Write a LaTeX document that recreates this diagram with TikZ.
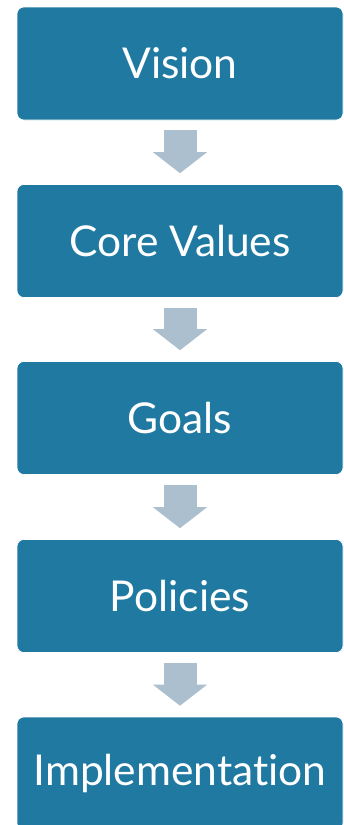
\documentclass[tikz,border=0pt]{standalone}
\usepackage{fontspec}
\setmainfont{Lato}[Ligatures={NoCommon,NoRequired,NoContextual}]
\usetikzlibrary{arrows.meta}

\definecolor{boxblue}{RGB}{31,121,161}
\definecolor{arrowgrey}{RGB}{171,191,206}

\tikzset{
  stagebox/.style={fill=boxblue, draw=white, line width=0.6pt, rounded corners=7pt,
    minimum width=326pt, minimum height=113pt, inner sep=0pt, text=white,
    font=\fontsize{42.5}{50}\selectfont},
  downarrow/.style={draw=arrowgrey, line width=33pt,
    -{Triangle[width=53pt,length=21pt]}, shorten <=10pt, shorten >=11pt}
}

\begin{document}
\begin{tikzpicture}[x=1pt,y=1pt]
\useasboundingbox (0,0) rectangle (344,-825);
\node[stagebox] (vision) at (180,-63.5) {Vision}; % stage 1
\node[stagebox] (values) at (180,-241) {Core Values}; % stage 2
\node[stagebox] (goals) at (180,-418) {Goals}; % stage 3
\node[stagebox] (policies) at (180,-596) {Policies}; % stage 4
\node[stagebox] (implementation) at (180,-773.5) {Implementation}; % stage 5
\draw[downarrow] (vision) -- (values);
\draw[downarrow] (values) -- (goals);
\draw[downarrow] (goals) -- (policies);
\draw[downarrow] (policies) -- (implementation);
\end{tikzpicture}
\end{document}
